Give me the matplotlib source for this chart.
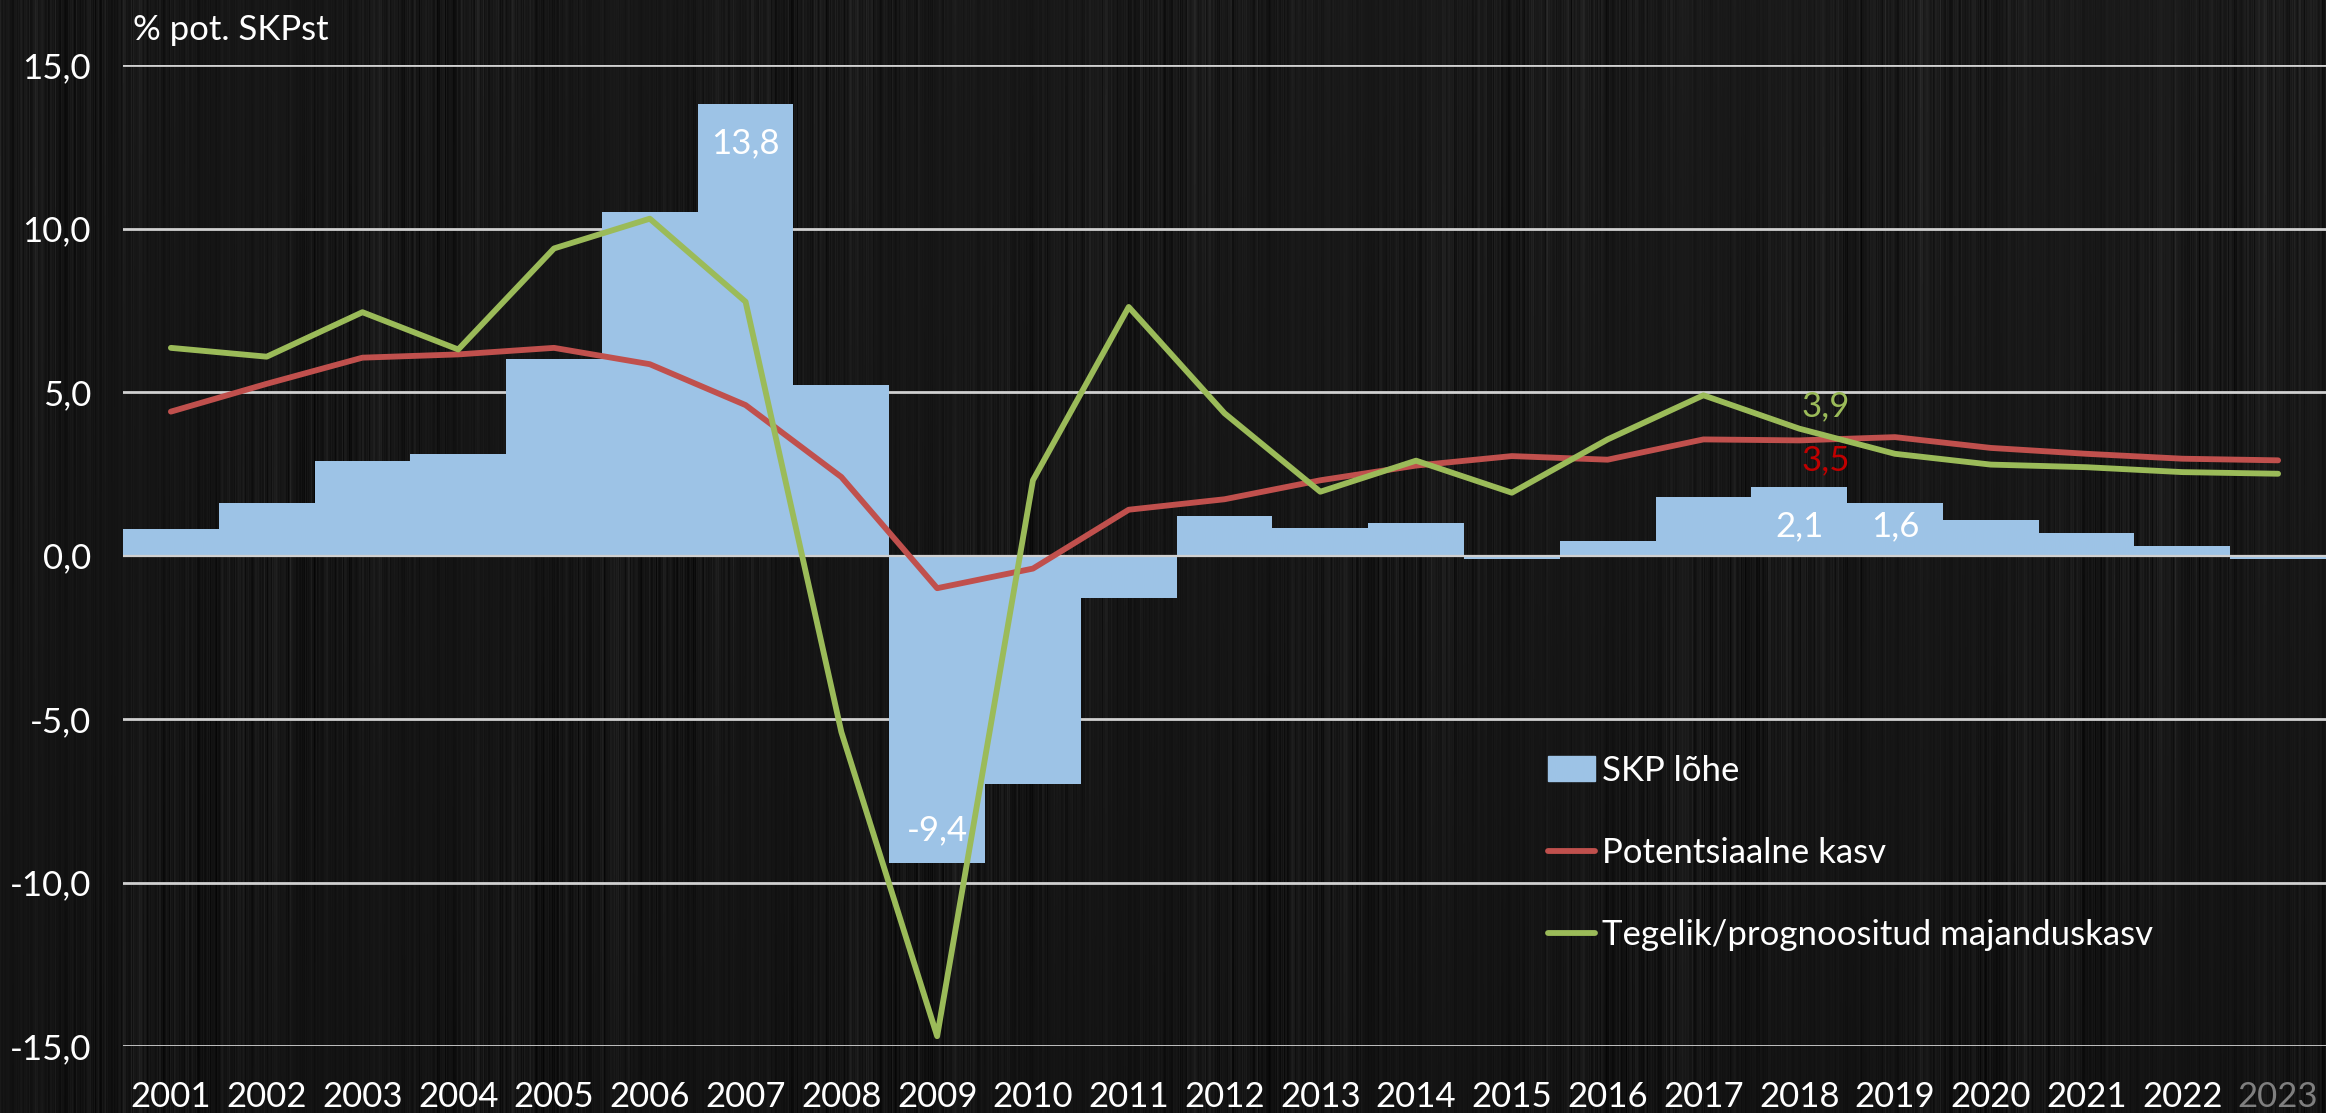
import numpy as np
import matplotlib
matplotlib.use("Agg")
import matplotlib.pyplot as plt
from matplotlib.patches import Patch
from matplotlib.lines import Line2D

plt.rcParams['font.family'] = ['Lato', 'DejaVu Sans']

years = [str(y) for y in range(2001, 2024)]
gap = [0.8, 1.6, 2.9, 3.1, 6.0, 10.5, 13.8, 5.2, -9.4, -7.0, -1.3, 1.2, 0.85, 1.0,
       -0.1, 0.45, 1.8, 2.1, 1.6, 1.1, 0.7, 0.3, -0.1]
potential = [4.4, 5.25, 6.05, 6.15, 6.35, 5.85, 4.6, 2.4, -1.0, -0.4, 1.4, 1.72, 2.3, 2.75,
             3.04, 2.93, 3.55, 3.52, 3.62, 3.29, 3.11, 2.96, 2.91]
actual = [6.35, 6.08, 7.44, 6.3, 9.39, 10.3, 7.76, -5.4, -14.7, 2.3, 7.6, 4.35, 1.95, 2.9,
          1.92, 3.55, 4.9, 3.88, 3.11, 2.78, 2.7, 2.55, 2.5]
yticks = [-15, -10, -5, 0, 5, 10, 15]
ytick_labels = ["-15,0", "-10,0", "-5,0", "0,0", "5,0", "10,0", "15,0"]

W, H = 2326, 1113
fig = plt.figure(figsize=(W / 100, H / 100), dpi=100)

# brushed-metal style background (deterministic fine streaks)
xs = np.arange(W)
ys = np.arange(H)[:, None]
streak = np.zeros(W)
for f, a, p in [(0.37, 0.008, 0.3), (0.91, 0.007, 1.1), (1.73, 0.006, 2.0), (2.41, 0.006, 0.7),
                (0.13, 0.006, 2.9), (3.07, 0.005, 1.6), (0.053, 0.006, 0.4), (2.89, 0.005, 0.2),
                (1.21, 0.006, 2.4), (0.71, 0.007, 1.9), (2.17, 0.005, 0.9), (1.47, 0.005, 2.7)]:
    streak += a * np.sin(f * xs + p)
mod = 1.0 + 0.6 * np.sin(ys * 0.005 + xs[None, :] * 0.017)
tex = 0.075 + streak[None, :] * mod + 0.03 * (1 - ys / H) * (0.4 + 0.6 * xs[None, :] / W)
tex = np.clip(tex, 0.02, 0.25)
bg = fig.add_axes([0, 0, 1, 1], zorder=-10)
bg.imshow(tex, cmap='gray', vmin=0, vmax=1, aspect='auto', interpolation='bilinear')
bg.axis('off')

ax = fig.add_axes([123 / W, 1 - 1046 / H, 1 - 123 / W, (1046 - 65) / H])
ax.set_facecolor('none')
x = np.arange(len(years))

for v in yticks:
    if v != 0:
        ax.axhline(v, color='#d0d0d0', lw=2.0, zorder=1)
ax.bar(x, gap, width=1.0, color='#9DC3E6', lw=0, zorder=2)
ax.axhline(0, color='#d0d0d0', lw=1.6, zorder=2.5)
ax.plot(x, potential, color='#C0504D', lw=4.2, zorder=3, solid_capstyle='round')
ax.plot(x, actual, color='#9BBB59', lw=4.2, zorder=4, solid_capstyle='round')

fs = 25
ax.set_xlim(-0.5, len(years) - 0.5)
ax.set_ylim(-15, 15)
ax.set_yticks(yticks)
ax.set_yticklabels(ytick_labels)
ax.set_xticks(x)
ax.set_xticklabels(years)
ax.tick_params(axis='both', length=0, labelsize=fs, colors='white')
ax.tick_params(axis='y', pad=23)
ax.tick_params(axis='x', pad=25)
ax.get_xticklabels()[-1].set_color('#7f7f7f')
for s in ax.spines.values():
    s.set_visible(False)

i07 = years.index('2007'); i09 = years.index('2009'); i18 = years.index('2018'); i19 = years.index('2019')
ax.text(i07, 12.6, "13,8", color='white', fontsize=fs, ha='center', va='center', zorder=5)
ax.text(i09, -8.4, "-9,4", color='white', fontsize=fs, ha='center', va='center', zorder=5)
ax.text(i18, 0.9, "2,1", color='white', fontsize=fs, ha='center', va='center', zorder=5)
ax.text(i19, 0.9, "1,6", color='white', fontsize=fs, ha='center', va='center', zorder=5)
ax.text(i18 + 0.28, 4.55, "3,9", color='#9BBB59', fontsize=fs, ha='center', va='center', zorder=5)
ax.text(i18 + 0.28, 2.9, "3,5", color='#C00000', fontsize=fs, ha='center', va='center', zorder=5)

fig.text(133 / W, 1 - 30 / H, "% pot. SKPst", color='white', fontsize=fs, ha='left', va='center')

handles = [Patch(color='#9DC3E6'),
           Line2D([0], [0], color='#C0504D', lw=4.2, solid_capstyle='round'),
           Line2D([0], [0], color='#9BBB59', lw=4.2, solid_capstyle='round')]
labels = ["SKP lõhe", "Potentsiaalne kasv", "Tegelik/prognoositud majanduskasv"]
leg = fig.legend(handles, labels, loc='center left', bbox_to_anchor=(1548 / W, 1 - 853 / H),
                 frameon=False, fontsize=fs, handlelength=1.35, handletextpad=0.2,
                 labelspacing=1.45, borderaxespad=0, borderpad=0)
for t in leg.get_texts():
    t.set_color('white')

fig.savefig("out.png", dpi=100)
